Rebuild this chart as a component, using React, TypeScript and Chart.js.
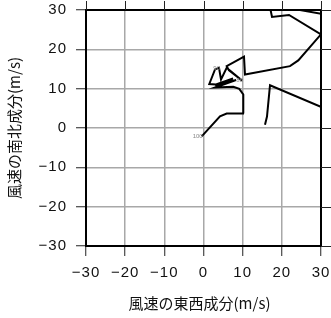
import React, { useEffect, useRef } from "react";
import { Chart, registerables } from "chart.js";

Chart.register(...registerables);

// Hodograph: east-west (u) and north-south (v) wind components in m/s
const uWind = [
  -0.46, 4.21, 5.92, 10.34, 10.16, 9.14, 7.61, 2.94, 8.3, 3.06, 7.53, 3.19, 1.48,
  2.94, 3.96, 4.47, 5.92, 9.83, 6.51, 5.92, 10.34, 10.59, 22.08, 24.2, 30.0,
  21.83, 17.49, 16.98, 19.53, 22.08, 32.81, 32.81, 16.98, 16.21, 15.7,
];
const vWind = [
  -2.13, 2.97, 3.66, 3.66, 8.51, 9.96, 10.47, 10.29, 12.21, 10.55, 12.59, 11.06,
  11.19, 14.89, 15.27, 12.33, 15.32, 12.08, 14.63, 15.73, 18.13, 13.61, 15.73,
  17.18, 23.81, 28.74, 28.23, 30.7, 32.74, 30.45, 28.53, 4.17, 10.88, 2.9, 0.85,
];
const levelIndices = [0, 14, 17];
const levelTexts = ["100", "90", "85"];
const tickValues = [-30, -20, -10, 0, 10, 20, 30];
const xTitle = "風速の東西成分(m/s)";
const yTitle = "風速の南北成分(m/s)";

const fmt = (v: number) => String(v).replace("-", "\u2212");

export default function App() {
  const ref = useRef<HTMLCanvasElement | null>(null);

  useEffect(() => {
    document.body.style.margin = "0";
    const canvas = ref.current;
    if (!canvas) return;

    const framePlugin = {
      id: "frame",
      beforeLayout(chart: any) {
        (chart.ctx as any).letterSpacing = "1px";
      },
      beforeDraw(chart: any) {
        (chart.ctx as any).letterSpacing = "1px";
      },
      afterDraw(chart: any) {
        const { ctx, chartArea } = chart;
        const { left, right, top, bottom } = chartArea;
        const xs = chart.scales.x;
        const ys = chart.scales.y;
        ctx.save();
        (ctx as any).letterSpacing = "0px";
        // level labels
        ctx.fillStyle = "#888";
        ctx.font = "6px 'Liberation Sans', Arial, sans-serif";
        ctx.textAlign = "right";
        ctx.textBaseline = "middle";
        levelIndices.forEach((idx, k) => {
          const px = xs.getPixelForValue(uWind[idx]);
          const py = ys.getPixelForValue(vWind[idx]);
          ctx.fillText(levelTexts[k], px + 1, py);
        });
        // frame
        ctx.strokeStyle = "#000";
        ctx.lineWidth = 2;
        ctx.strokeRect(left, top, right - left, bottom - top);
        // ticks on top and right
        ctx.strokeStyle = "#222";
        ctx.lineWidth = 1;
        ctx.beginPath();
        tickValues.forEach((t) => {
          const px = Math.round(xs.getPixelForValue(t)) + 0.5;
          ctx.moveTo(px, top);
          ctx.lineTo(px, top - 9);
          const py = Math.round(ys.getPixelForValue(t)) + 0.5;
          ctx.moveTo(right, py);
          ctx.lineTo(right + 10, py);
        });
        ctx.stroke();
        // titles
        ctx.fillStyle = "#111";
        ctx.font = "15px 'Noto Sans CJK JP', sans-serif";
        ctx.textAlign = "center";
        ctx.textBaseline = "middle";
        ctx.fillText(xTitle, (left + right) / 2 - 4, 303);
        ctx.translate(14, (top + bottom) / 2);
        ctx.rotate(-Math.PI / 2);
        ctx.fillText(yTitle, 0, 0);
        ctx.restore();
      },
    };

    const tickFont = { family: "'Liberation Sans', Arial, sans-serif", size: 15 };
    const zeroPad = (s: any) => {
      s.paddingLeft = 0;
      s.paddingRight = 0;
      s.paddingTop = 0;
      s.paddingBottom = 0;
    };
    const chart = new Chart(canvas, {
      type: "scatter",
      data: {
        datasets: [
          {
            data: uWind.map((u, i) => ({ x: u, y: vWind[i] })),
            showLine: true,
            borderColor: "#000",
            borderWidth: 2,
            pointRadius: 0,
            tension: 0,
            fill: false,
          },
        ],
      },
      options: {
        animation: false,
        responsive: true,
        maintainAspectRatio: false,
        layout: { padding: { top: 10, right: 10, left: 0, bottom: 0 } },
        plugins: { legend: { display: false }, tooltip: { enabled: false } },
        scales: {
          x: {
            type: "linear",
            min: -30,
            max: 30,
            afterFit: (s: any) => {
              s.height = 72;
              zeroPad(s);
            },
            afterBuildTicks: (s: any) => {
              s.ticks = tickValues.map((v) => ({ value: v }));
            },
            ticks: {
              callback: (v: any) => fmt(Number(v)),
              font: tickFont,
              color: "#111",
              padding: 8,
              maxRotation: 0,
            },
            grid: {
              color: "#a8a8a8",
              lineWidth: 1.5,
              tickColor: "#222",
              tickLength: 10,
              tickWidth: 1,
            },
            border: { display: true, color: "#000", width: 2 },
          },
          y: {
            type: "linear",
            min: -30,
            max: 30,
            afterFit: (s: any) => {
              s.width = 86;
              zeroPad(s);
            },
            afterBuildTicks: (s: any) => {
              s.ticks = tickValues.map((v) => ({ value: v }));
            },
            ticks: {
              callback: (v: any) => fmt(Number(v)),
              font: tickFont,
              color: "#111",
              padding: 9,
            },
            grid: {
              color: "#a8a8a8",
              lineWidth: 1.5,
              tickColor: "#222",
              tickLength: 10,
              tickWidth: 1,
            },
            border: { display: true, color: "#000", width: 2 },
          },
        },
      },
      plugins: [framePlugin],
    });
    return () => chart.destroy();
  }, []);

  return (
    <div style={{ position: "fixed", left: 0, top: 0, width: 331, height: 318 }}>
      <canvas ref={ref} />
    </div>
  );
}
